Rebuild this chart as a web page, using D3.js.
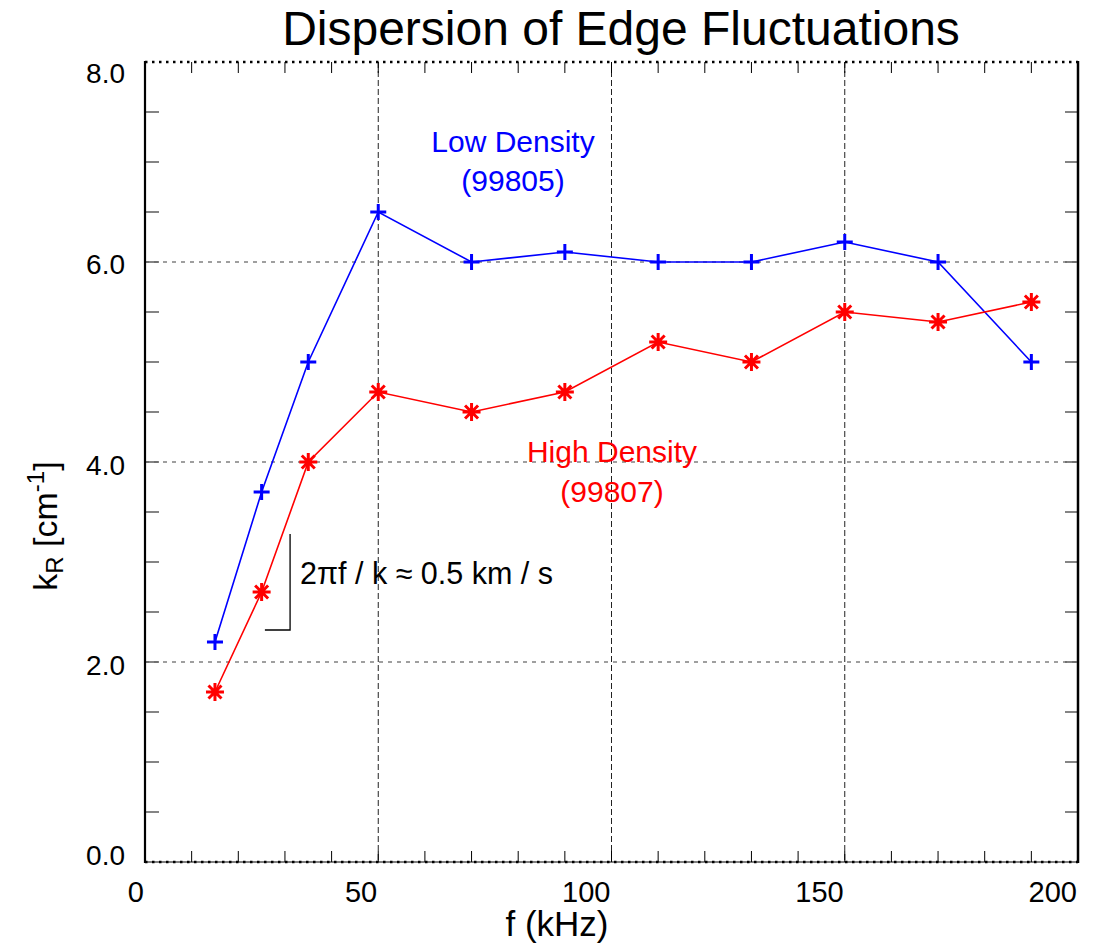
<!DOCTYPE html>
<html>
<head>
<meta charset="utf-8">
<script src="https://cdn.jsdelivr.net/npm/d3@7"></script>
<style>
  html, body { margin: 0; padding: 0; background: #fff; }
  svg { display: block; }
  text { font-family: "Liberation Sans", Arial, sans-serif; }
</style>
</head>
<body>
<svg id="chart" width="1093" height="945"></svg>
<script>
// ---- data ----
const freq = [15, 25, 35, 50, 70, 90, 110, 130, 150, 170, 190];
const lowDensity = [2.2, 3.7, 5.0, 6.5, 6.0, 6.1, 6.0, 6.0, 6.2, 6.0, 5.0];
const highDensity = [1.7, 2.7, 4.0, 4.7, 4.5, 4.7, 5.2, 5.0, 5.5, 5.4, 5.6];
const xTickLabels = ["0", "50", "100", "150", "200"];
const xTickValues = [0, 50, 100, 150, 200];
const yTickLabels = ["0.0", "2.0", "4.0", "6.0", "8.0"];
const yTickValues = [0, 2, 4, 6, 8];
const xGrid = [50, 100, 150];
const yGrid = [2, 4, 6];
// bracket annotation in data units: [f, k]
const bracket = [[25.7, 2.32], [31.1, 2.32], [31.1, 3.28]];

// ---- layout ----
const svg = d3.select("#chart");
const L = 145, R = 1078, T = 62, B = 862;
const x = d3.scaleLinear().domain([0, 200]).range([L, R]);
const y = d3.scaleLinear().domain([0, 8]).range([B, T]);

// horizontal grid (grey dotted)
svg.append("g").selectAll("line").data(yGrid).join("line")
  .attr("x1", L).attr("x2", R)
  .attr("y1", d => y(d)).attr("y2", d => y(d))
  .attr("stroke", "#808080").attr("stroke-width", 1.6)
  .attr("stroke-dasharray", "4,5");

// vertical grid (black dashed)
svg.append("g").selectAll("line").data(xGrid).join("line")
  .attr("x1", d => x(d)).attr("x2", d => x(d))
  .attr("y1", T).attr("y2", B)
  .attr("stroke", "#222").attr("stroke-width", 1)
  .attr("stroke-dasharray", "6,3");

// minor ticks
const xMinor = d3.range(10, 200, 10);
const yMinor = d3.range(0.5, 8, 0.5);
const tk = svg.append("g");
tk.selectAll(".xb").data(xMinor).join("line")
  .attr("x1", d => x(d)).attr("x2", d => x(d))
  .attr("y1", B).attr("y2", B - 11)
  .attr("stroke", "#000").attr("stroke-width", 1);
tk.selectAll(".xt").data(xMinor).join("line")
  .attr("x1", d => x(d)).attr("x2", d => x(d))
  .attr("y1", T).attr("y2", T + 11)
  .attr("stroke", "#000").attr("stroke-width", 1);
tk.selectAll(".yl").data(yMinor).join("line")
  .attr("x1", L).attr("x2", L + 14)
  .attr("y1", d => y(d)).attr("y2", d => y(d))
  .attr("stroke", "#666").attr("stroke-width", 1.6);
tk.selectAll(".yr").data(yMinor).join("line")
  .attr("x1", R).attr("x2", R - 13)
  .attr("y1", d => y(d)).attr("y2", d => y(d))
  .attr("stroke", "#666").attr("stroke-width", 1.6);

// axes frame
svg.append("line").attr("x1", L).attr("x2", R).attr("y1", B).attr("y2", B)
  .attr("stroke", "#000").attr("stroke-width", 1);
svg.append("line").attr("x1", L).attr("x2", R).attr("y1", B).attr("y2", B)
  .attr("stroke", "#000").attr("stroke-width", 2.5).attr("stroke-dasharray", "2.5,4.5");
svg.append("line").attr("x1", L).attr("x2", R).attr("y1", T).attr("y2", T)
  .attr("stroke", "#000").attr("stroke-width", 2.5).attr("stroke-dasharray", "2.5,4.5");
svg.append("line").attr("x1", L).attr("x2", L).attr("y1", T - 1).attr("y2", B + 1)
  .attr("stroke", "#000").attr("stroke-width", 2.2);
svg.append("line").attr("x1", R).attr("x2", R).attr("y1", T - 1).attr("y2", B + 1)
  .attr("stroke", "#000").attr("stroke-width", 2.5);

// tick labels
const xl = svg.append("g");
xl.selectAll("text").data(xTickValues).join("text")
  .attr("x", d => x(d) - 1).attr("y", B + 40)
  .attr("text-anchor", "end").attr("font-size", 29)
  .text((d, i) => xTickLabels[i]);
const yOff = [3, 13, 13, 12, 21];
const yl = svg.append("g");
yl.selectAll("text").data(yTickValues).join("text")
  .attr("x", 125).attr("y", (d, i) => y(d) + yOff[i])
  .attr("text-anchor", "end").attr("font-size", 28)
  .text((d, i) => yTickLabels[i]);

// title
svg.append("text").attr("x", 621).attr("y", 45)
  .attr("text-anchor", "middle").attr("font-size", 48)
  .text("Dispersion of Edge Fluctuations");

// axis titles
svg.append("text").attr("x", 557).attr("y", 936)
  .attr("text-anchor", "middle").attr("font-size", 35)
  .text("f (kHz)");
const yt = svg.append("text")
  .attr("transform", "translate(57,526) rotate(-90)")
  .attr("text-anchor", "middle").attr("font-size", 34);
yt.append("tspan").text("k");
yt.append("tspan").attr("font-size", 24).attr("dy", 6).text("R");
yt.append("tspan").attr("dy", -6).text(" [cm");
yt.append("tspan").attr("font-size", 24).attr("dy", -13).text("-1");
yt.append("tspan").attr("dy", 13).text("]");

// series lines
const line = d3.line().x((d, i) => x(freq[i])).y(d => y(d));
svg.append("path").datum(lowDensity).attr("d", line)
  .attr("fill", "none").attr("stroke", "#0000ff").attr("stroke-width", 1.6);
svg.append("path").datum(highDensity).attr("d", line)
  .attr("fill", "none").attr("stroke", "#ff0000").attr("stroke-width", 1.6);

// markers: plus (blue)
const plus = svg.append("g").attr("stroke", "#0000ff").attr("stroke-width", 3);
plus.selectAll("path").data(lowDensity).join("path")
  .attr("d", (d, i) => {
    const cx = x(freq[i]), cy = y(d);
    return `M${cx - 8},${cy}H${cx + 8}M${cx},${cy - 8}V${cy + 8}`;
  });
// markers: asterisk (red)
const ast = svg.append("g").attr("stroke", "#ff0000").attr("stroke-width", 3);
ast.selectAll("path").data(highDensity).join("path")
  .attr("d", (d, i) => {
    const cx = x(freq[i]), cy = y(d), r = 9, q = 6.5;
    return `M${cx - r},${cy}H${cx + r}M${cx},${cy - r}V${cy + r}` +
      `M${cx - q},${cy - q}L${cx + q},${cy + q}M${cx - q},${cy + q}L${cx + q},${cy - q}`;
  });

// legend labels
svg.append("text").attr("x", 513).attr("y", 152).attr("text-anchor", "middle")
  .attr("font-size", 30).attr("fill", "#0000ff").text("Low Density");
svg.append("text").attr("x", 513).attr("y", 191).attr("text-anchor", "middle")
  .attr("font-size", 30).attr("fill", "#0000ff").text("(99805)");
svg.append("text").attr("x", 612).attr("y", 462).attr("text-anchor", "middle")
  .attr("font-size", 30).attr("fill", "#ff0000").text("High Density");
svg.append("text").attr("x", 612).attr("y", 502).attr("text-anchor", "middle")
  .attr("font-size", 30).attr("fill", "#ff0000").text("(99807)");

// annotation
svg.append("path")
  .attr("d", d3.line().x(d => x(d[0])).y(d => y(d[1]))(bracket))
  .attr("fill", "none").attr("stroke", "#000").attr("stroke-width", 1.3);
svg.append("text").attr("x", 300).attr("y", 584).attr("font-size", 30.5)
  .text("2πf / k ≈ 0.5 km / s");
</script>
</body>
</html>
